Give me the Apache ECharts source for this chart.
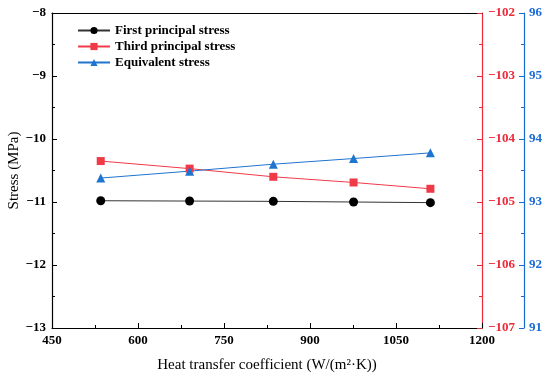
<!DOCTYPE html>
<html>
<head>
<meta charset="utf-8">
<script src="https://cdn.jsdelivr.net/npm/echarts@6/dist/echarts.min.js"></script>
<style>html,body{margin:0;padding:0;background:#fff}#c{width:550px;height:379px}</style>
</head>
<body>
<div id="c"></div>
<script>
var heatTransfer = [535, 690, 836, 976, 1110];
var firstPrincipal = [-10.98, -10.985, -10.99, -11.0, -11.01];
var thirdPrincipal = [-104.35, -104.47, -104.60, -104.69, -104.79];
var equivalent = [93.38, 93.49, 93.60, 93.69, 93.78];

function pairs(xs, ys){ return xs.map(function(x,i){ return [x, ys[i]]; }); }
function minus(v){ return String(v).replace('-', '\u2212'); }

var F = 'Liberation Serif';
var chart = echarts.init(document.getElementById('c'));
chart.setOption({
  animation: false,
  grid: {left: 52, right: 68, top: 13, bottom: 51, containLabel: false, outerBoundsMode: 'none'},
  legend: {
    orient: 'vertical', left: 72, top: 19, itemGap: 3, itemWidth: 32, itemHeight: 9,
    textStyle: {fontFamily: F, fontWeight: 'bold', fontSize: 13, color: '#000'},
    data: ['First principal stress', 'Third principal stress', 'Equivalent stress']
  },
  xAxis: [{
    type: 'value', min: 450, max: 1200, interval: 150,
    name: 'Heat transfer coefficient (W/(m\u00b2\u00b7K))',
    nameLocation: 'middle', nameGap: 30, nameMoveOverlap: false,
    nameTextStyle: {fontFamily: F, fontSize: 15, color: '#000'},
    axisLine: {lineStyle: {color: '#000', width: 1.2}},
    axisTick: {inside: true, length: 5, lineStyle: {color: '#000'}},
    minorTick: {show: true, splitNumber: 2, length: 3, lineStyle: {color: '#000'}},
    axisLabel: {fontFamily: F, fontWeight: 'bold', fontSize: 13, color: '#000', margin: 6, formatter: function(v){ return String(v); }},
    splitLine: {show: false}
  }, {
    type: 'value', min: 450, max: 1200, position: 'top',
    axisLine: {lineStyle: {color: '#000', width: 1.2}},
    axisTick: {show: false}, axisLabel: {show: false}, splitLine: {show: false}
  }],
  yAxis: [{
    type: 'value', min: -13, max: -8, interval: 1, position: 'left',
    name: 'Stress (MPa)', nameLocation: 'middle', nameGap: 30, nameMoveOverlap: false,
    nameTextStyle: {fontFamily: F, fontSize: 15, color: '#000'},
    axisLine: {show: true, lineStyle: {color: '#000', width: 1.2}},
    axisTick: {inside: true, length: 5, lineStyle: {color: '#000'}},
    minorTick: {show: true, splitNumber: 2, length: 3, lineStyle: {color: '#000'}},
    axisLabel: {fontFamily: F, fontWeight: 'bold', fontSize: 13, color: '#000', margin: 6, formatter: minus},
    splitLine: {show: false}
  }, {
    type: 'value', min: -107, max: -102, interval: 1, position: 'right', offset: 0,
    axisLine: {show: true, lineStyle: {color: '#ee2a3a', width: 1.2}},
    axisTick: {inside: true, length: 5, lineStyle: {color: '#ee2a3a'}},
    minorTick: {show: true, splitNumber: 2, length: 3, lineStyle: {color: '#ee2a3a'}},
    axisLabel: {fontFamily: F, fontWeight: 'bold', fontSize: 13, color: '#ee2a3a', margin: 6, formatter: minus},
    splitLine: {show: false}
  }, {
    type: 'value', min: 91, max: 96, interval: 1, position: 'right', offset: 42,
    axisLine: {show: true, lineStyle: {color: '#1a6bd6', width: 1.2}},
    axisTick: {inside: true, length: 5, lineStyle: {color: '#1a6bd6'}},
    minorTick: {show: true, splitNumber: 2, length: 3, lineStyle: {color: '#1a6bd6'}},
    axisLabel: {fontFamily: F, fontWeight: 'bold', fontSize: 13, color: '#1a6bd6', margin: 5},
    splitLine: {show: false}
  }],
  series: [{
    name: 'First principal stress', type: 'line', yAxisIndex: 0,
    data: pairs(heatTransfer, firstPrincipal),
    symbol: 'circle', symbolSize: 9,
    lineStyle: {color: '#333', width: 1}, itemStyle: {color: '#000'}
  }, {
    name: 'Third principal stress', type: 'line', yAxisIndex: 1,
    data: pairs(heatTransfer, thirdPrincipal),
    symbol: 'rect', symbolSize: 8,
    lineStyle: {color: '#f03a48', width: 1}, itemStyle: {color: '#f03a48'}
  }, {
    name: 'Equivalent stress', type: 'line', yAxisIndex: 2,
    data: pairs(heatTransfer, equivalent),
    symbol: 'triangle', symbolSize: 9,
    lineStyle: {color: '#1f74d0', width: 1}, itemStyle: {color: '#1f74d0'}
  }]
});
</script>
</body>
</html>
